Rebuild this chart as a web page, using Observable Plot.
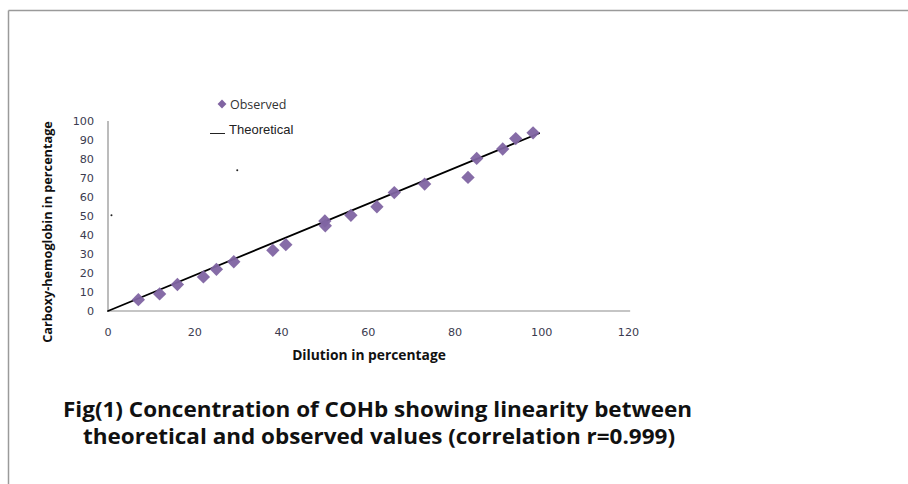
<!DOCTYPE html>
<html>
<head>
<meta charset="utf-8">
<script src="https://cdn.jsdelivr.net/npm/d3@7"></script>
<script src="https://cdn.jsdelivr.net/npm/@observablehq/plot@0.6"></script>
<style>
  html, body { margin: 0; padding: 0; background: #fff; }
  #chart { width: 908px; height: 484px; }
</style>
</head>
<body>
<div id="chart"></div>
<script>
// Observed data (Dilution %, COHb %)
const observedX = [7.0, 11.9, 16.0, 22.0, 25.0, 29.0, 38.0, 41.0, 50.0, 50.1, 56.0, 62.0, 66.0, 73.0, 83.0, 85.0, 91.0, 94.0, 98.0];
const observedY = [6.0, 9.0, 14.0, 18.0, 22.0, 26.0, 32.0, 35.0, 47.5, 45.0, 50.5, 55.0, 62.5, 67.0, 70.5, 80.5, 85.5, 91.0, 94.0];
// Theoretical line endpoints
const theoreticalX = [0, 99.4];
const theoreticalY = [0, 93.8];
// Stray marks present in the original figure
const strayX = [0.8, 29.8];
const strayY = [50.5, 74.3];
// Tick labels
const xTicks = [0, 20, 40, 60, 80, 100, 120];
const yTicks = [0, 10, 20, 30, 40, 50, 60, 70, 80, 90, 100];

const observed = observedX.map((x, i) => ({x, y: observedY[i]}));
const theoretical = theoreticalX.map((x, i) => ({x, y: theoreticalY[i]}));
const stray = strayX.map((x, i) => ({x, y: strayY[i]}));

const tickFont = "DejaVu Sans";
const tickColor = "#3b3b4f";

const plot = Plot.plot({
  width: 908,
  height: 484,
  marginLeft: 107.5,
  marginRight: 280,
  marginTop: 121,
  marginBottom: 173.5,
  style: {background: "#fff", fontFamily: "'DejaVu Sans'", fontSize: "11px", color: tickColor, overflow: "visible"},
  x: {domain: [0, 120], label: null},
  y: {domain: [0, 100], label: null},
  marks: [
    Plot.axisX({ticks: xTicks, tickSize: 0, tickPadding: 17, label: null, fontFamily: tickFont, fontSize: 11.2, fill: tickColor}),
    Plot.axisY({ticks: yTicks, tickSize: 0, tickPadding: 14, label: null, fontFamily: tickFont, fontSize: 11.2, fill: tickColor}),
    Plot.ruleX([0], {stroke: "#a6a6a6", strokeWidth: 1.5}),
    Plot.ruleY([0], {x1: 0, x2: 120.5, stroke: "#8c8c8c", strokeWidth: 1.2}),
    Plot.line(theoretical, {x: "x", y: "y", stroke: "#000", strokeWidth: 1.8}),
    Plot.dot(observed, {x: "x", y: "y", symbol: "diamond2", r: 6, fill: "#8064a2", stroke: "none", fillOpacity: 0.95}),
    Plot.dot(stray, {x: "x", y: "y", r: 1, fill: "#222", stroke: "none"})
  ]
});

document.getElementById("chart").appendChild(plot);

const svg = d3.select(plot);

// Outer frame (top and left borders)
svg.append("line").attr("x1", 8.5).attr("x2", 908).attr("y1", 10.5).attr("y2", 10.5)
  .attr("stroke", "#9a9a9a").attr("stroke-width", 1.5);
svg.append("line").attr("x1", 8.5).attr("x2", 8.5).attr("y1", 10.5).attr("y2", 484)
  .attr("stroke", "#9a9a9a").attr("stroke-width", 1.5);

// Legend
const lg = svg.append("g").attr("text-anchor", "start");
lg.append("path").attr("d", d3.symbol(d3.symbolDiamond2, 50)()).attr("transform", "translate(222,104)")
  .attr("fill", "#8064a2");
lg.append("text").attr("x", 230).attr("y", 108.5).text("Observed")
  .attr("font-family", "Open Sans").attr("font-size", 12.5).attr("fill", "#333");
lg.append("line").attr("x1", 210).attr("x2", 225).attr("y1", 133.5).attr("y2", 133.5)
  .attr("stroke", "#222").attr("stroke-width", 1);
lg.append("text").attr("x", 229).attr("y", 133.5).text("Theoretical")
  .attr("font-family", "Liberation Sans").attr("font-size", 13).attr("fill", "#222");

// Axis titles
svg.append("text").attr("transform", "translate(52,232) rotate(-90)").attr("text-anchor", "middle")
  .text("Carboxy-hemoglobin in percentage")
  .attr("font-family", "Open Sans").attr("font-weight", "bold").attr("font-size", 12.7).attr("fill", "#111");
svg.append("text").attr("x", 369).attr("y", 360).attr("text-anchor", "middle")
  .text("Dilution in percentage")
  .attr("font-family", "Open Sans").attr("font-weight", "bold").attr("font-size", 13.8).attr("fill", "#111");

// Caption
const cap = svg.append("g").attr("font-family", "Open Sans").attr("font-weight", "bold")
  .attr("font-size", 20.5).attr("fill", "#111").attr("text-anchor", "middle");
cap.append("text").attr("x", 377.5).attr("y", 417).attr("textLength", 629).attr("lengthAdjust", "spacingAndGlyphs")
  .text("Fig(1) Concentration of COHb showing linearity between");
cap.append("text").attr("x", 379).attr("y", 444).attr("textLength", 592).attr("lengthAdjust", "spacingAndGlyphs")
  .text("theoretical and observed values (correlation r=0.999)");
</script>
</body>
</html>
